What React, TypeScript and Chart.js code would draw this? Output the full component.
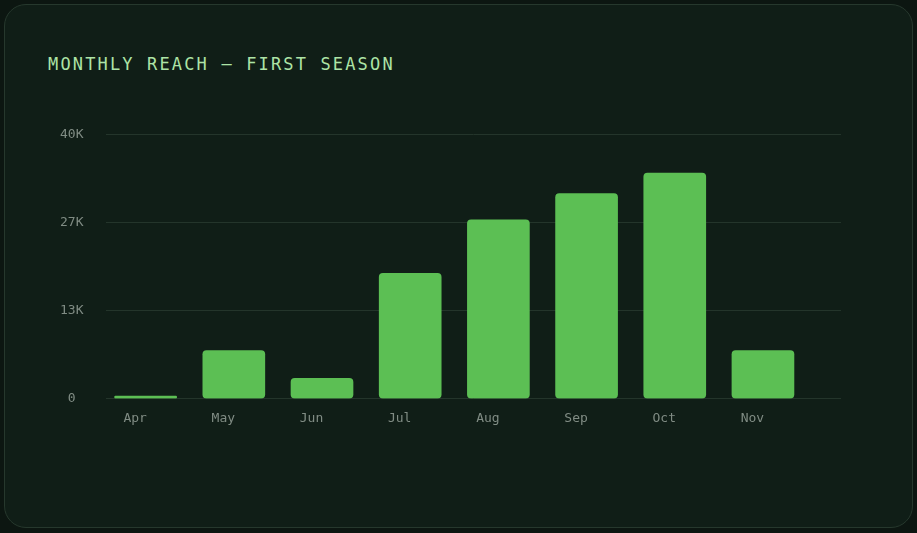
import React, { useEffect, useRef } from 'react';
import { Chart, registerables } from 'chart.js';

Chart.register(...registerables);

const months: string[] = ['Apr', 'May', 'Jun', 'Jul', 'Aug', 'Sep', 'Oct', 'Nov'];
const reach: number[] = [400, 7300, 3100, 19000, 27100, 31100, 34200, 7300];
const yMax = 40000;
const yTickCount = 4;

const FONT = "'DejaVu Sans Mono', monospace";

export default function App() {
  const ref = useRef<HTMLCanvasElement | null>(null);

  useEffect(() => {
    if (!ref.current) return;
    const chart = new Chart(ref.current, {
      type: 'bar',
      data: {
        datasets: [
          {
            data: reach.map((v, i) => ({ x: i, y: v })),
            backgroundColor: '#5cbf54',
            borderWidth: 0,
            borderRadius: 4,
            borderSkipped: false,
            barThickness: 62,
          },
        ],
      },
      options: {
        animation: false,
        responsive: true,
        maintainAspectRatio: false,
        layout: { padding: { left: 7, right: 19, top: 10, bottom: 5.7 } },
        plugins: { legend: { display: false }, tooltip: { enabled: false }, title: { display: false } },
        scales: {
          x: {
            type: 'linear',
            min: -0.444,
            max: 7.885,
            offset: false,
            grid: { display: false, drawTicks: false, offset: false },
            border: { display: false },
            ticks: {
              stepSize: 1,
              includeBounds: false,
              autoSkip: false,
              maxRotation: 0,
              padding: 12,
              labelOffset: -10.5,
              color: '#808c84',
              font: { family: FONT, size: 13 },
              callback: (v: any) => months[v as number] ?? '',
            },
          },
          y: {
            min: 0,
            max: yMax,
            grid: { color: '#24352b', drawTicks: false, lineWidth: 1 },
            border: { display: false },
            ticks: {
              count: yTickCount,
              padding: 23,
              crossAlign: 'center',
              color: '#808c84',
              font: { family: FONT, size: 13 },
              callback: (v: any) => (Number(v) === 0 ? '0' : Math.round(Number(v) / 1000) + 'K'),
            },
          },
        },
      },
    });
    return () => chart.destroy();
  }, []);

  return (
    <div style={{ position: 'fixed', inset: 0, background: '#0c1611' }}>
      <div
        style={{
          position: 'absolute',
          left: 4,
          top: 4,
          width: 909,
          height: 524,
          boxSizing: 'border-box',
          borderRadius: 22,
          border: '1px solid #26382d',
          background: '#101e17',
        }}
      />
      <div
        style={{
          position: 'absolute',
          left: 48,
          top: 54,
          fontFamily: FONT,
          fontSize: 17,
          lineHeight: '20px',
          letterSpacing: '2.15px',
          color: '#ade4a6',
          whiteSpace: 'nowrap',
        }}
      >
        MONTHLY REACH — FIRST SEASON
      </div>
      <div style={{ position: 'absolute', left: 30, top: 104, width: 830, height: 340 }}>
        <canvas ref={ref} />
      </div>
    </div>
  );
}
